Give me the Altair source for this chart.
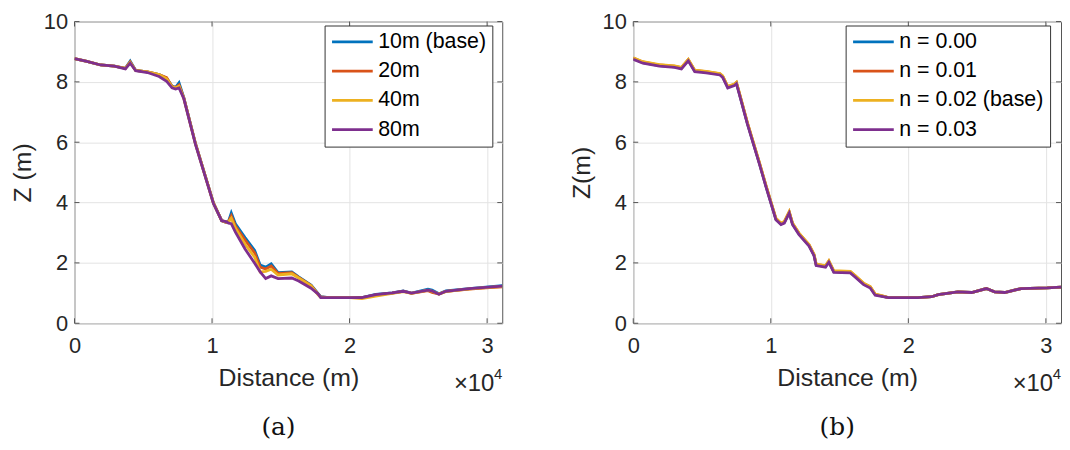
import altair as alt
import pandas as pd

# ---------------- data ----------------
dist_a = [0, 900, 1900, 2900, 3700, 4050, 4450, 5300, 6150, 6700,
          7090, 7350, 7600, 7950, 8800, 10100, 10700, 11000, 11200, 11400,
          11700, 12400, 13100, 13500, 13900, 14300, 14800, 15800, 16300, 17200,
          17700, 17900, 18500, 20000, 20900, 21900, 23100, 23900, 24500, 25700,
          26000, 26500, 27000, 28700, 29900, 31100]
z_10m = [8.77, 8.68, 8.56, 8.52, 8.45, 8.69, 8.38, 8.33, 8.24, 8.12,
         7.86, 7.82, 7.97, 7.48, 5.95, 3.99, 3.40, 3.35, 3.38, 3.66,
         3.30, 2.84, 2.41, 1.93, 1.86, 1.97, 1.68, 1.70, 1.54, 1.27,
         0.99, 0.88, 0.85, 0.85, 0.85, 0.96, 1.01, 1.07, 1.00, 1.13,
         1.10, 0.98, 1.07, 1.15, 1.20, 1.25]
z_20m = [8.77, 8.68, 8.56, 8.52, 8.45, 8.66, 8.38, 8.33, 8.24, 8.14,
         7.85, 7.81, 7.90, 7.47, 5.95, 3.99, 3.40, 3.35, 3.37, 3.56,
         3.22, 2.76, 2.33, 1.86, 1.80, 1.90, 1.65, 1.68, 1.52, 1.25,
         0.97, 0.87, 0.85, 0.85, 0.85, 0.94, 1.00, 1.06, 0.99, 1.08,
         1.02, 0.97, 1.06, 1.13, 1.17, 1.21]
z_40m = [8.77, 8.68, 8.56, 8.52, 8.45, 8.64, 8.38, 8.33, 8.24, 8.10,
         7.84, 7.80, 7.86, 7.45, 5.94, 3.98, 3.40, 3.35, 3.36, 3.48,
         3.15, 2.62, 2.19, 1.70, 1.72, 1.79, 1.60, 1.64, 1.50, 1.24,
         0.95, 0.86, 0.85, 0.85, 0.82, 0.90, 0.99, 1.05, 0.99, 1.10,
         1.06, 0.97, 1.05, 1.14, 1.18, 1.22]
z_80m = [8.77, 8.68, 8.56, 8.52, 8.43, 8.62, 8.37, 8.31, 8.18, 8.02,
         7.80, 7.76, 7.80, 7.44, 5.92, 3.97, 3.40, 3.37, 3.32, 3.30,
         3.02, 2.46, 1.99, 1.70, 1.48, 1.57, 1.48, 1.50, 1.40, 1.16,
         0.97, 0.85, 0.85, 0.85, 0.85, 0.95, 1.01, 1.06, 1.00, 1.10,
         1.07, 0.96, 1.06, 1.15, 1.19, 1.23]
labels_a = ["10m (base)", "20m", "40m", "80m"]

dist_b = [0, 700, 1900, 3000, 3500, 4000, 4470, 5300, 6300, 6500,
          6870, 7350, 7500, 7700, 8300, 9170, 9650, 10370, 10740, 10980,
          11340, 11580, 12050, 12780, 13140, 13300, 13980, 14220, 14580, 15780,
          16140, 16750, 17230, 17590, 18070, 18550, 20700, 21700, 22170, 23600,
          24600, 25670, 26270, 27000, 28200, 30100, 31100]
z_n000 = [8.77, 8.64, 8.54, 8.50, 8.45, 8.72, 8.36, 8.32, 8.25, 8.17,
          7.82, 7.90, 7.96, 7.63, 6.62, 5.30, 4.54, 3.45, 3.29, 3.34,
          3.67, 3.29, 2.96, 2.58, 2.26, 1.93, 1.88, 2.04, 1.71, 1.69,
          1.55, 1.30, 1.19, 0.95, 0.90, 0.85, 0.85, 0.88, 0.95, 1.04,
          1.02, 1.15, 1.04, 1.02, 1.15, 1.17, 1.20]
z_n001 = [8.79, 8.66, 8.56, 8.52, 8.47, 8.74, 8.38, 8.34, 8.27, 8.19,
          7.84, 7.92, 7.98, 7.65, 6.64, 5.32, 4.56, 3.47, 3.31, 3.36,
          3.69, 3.31, 2.98, 2.60, 2.28, 1.95, 1.90, 2.06, 1.73, 1.71,
          1.57, 1.32, 1.21, 0.96, 0.91, 0.85, 0.85, 0.88, 0.95, 1.04,
          1.02, 1.15, 1.04, 1.02, 1.15, 1.17, 1.20]
z_n002 = [8.80, 8.67, 8.57, 8.53, 8.48, 8.75, 8.39, 8.35, 8.28, 8.20,
          7.85, 7.93, 7.99, 7.66, 6.65, 5.33, 4.57, 3.48, 3.32, 3.37,
          3.70, 3.32, 2.99, 2.61, 2.29, 1.96, 1.91, 2.07, 1.74, 1.72,
          1.58, 1.33, 1.22, 0.97, 0.92, 0.85, 0.85, 0.88, 0.95, 1.04,
          1.02, 1.15, 1.04, 1.02, 1.15, 1.17, 1.20]
z_n003 = [8.75, 8.62, 8.52, 8.48, 8.43, 8.70, 8.34, 8.30, 8.23, 8.15,
          7.80, 7.88, 7.94, 7.61, 6.60, 5.28, 4.52, 3.43, 3.27, 3.32,
          3.65, 3.27, 2.94, 2.56, 2.24, 1.91, 1.86, 2.02, 1.69, 1.67,
          1.53, 1.28, 1.17, 0.93, 0.89, 0.85, 0.85, 0.88, 0.95, 1.04,
          1.02, 1.15, 1.04, 1.02, 1.15, 1.17, 1.20]
labels_b = ["n = 0.00", "n = 0.01", "n = 0.02 (base)", "n = 0.03"]

colors = ["#0072BD", "#D95319", "#EDB120", "#7E2F8E"]
x_ticks = [0, 10000, 20000, 30000]
y_ticks = [0, 2, 4, 6, 8, 10]
x_max = 31100

FONT = "Liberation Sans"
SERIF = "DejaVu Serif"
W, H = 431, 304
TXT = "#262626"


def tidy(dist, series, labels):
    rows = []
    for lab, vals in zip(labels, series):
        for d, z in zip(dist, vals):
            rows.append({"Distance": d, "Z": z, "series": lab})
    return pd.DataFrame(rows)


def panel(df, labels, ytitle, caption, lx, ly):
    X = alt.X("Distance:Q",
              scale=alt.Scale(domain=[0, x_max], nice=False, zero=False),
              axis=alt.Axis(values=x_ticks, labelExpr="datum.value / 10000",
                            title="Distance (m)", grid=True, gridColor="#e3e3e3",
                            ticks=False, domain=False, labelFontSize=22,
                            titleFontSize=25, labelFont=FONT, titleFont=FONT,
                            labelColor=TXT, titleColor=TXT, titleFontWeight="normal",
                            labelPadding=12, titlePadding=10, labelFlush=False))
    Y = alt.Y("Z:Q",
              scale=alt.Scale(domain=[0, 10], nice=False),
              axis=alt.Axis(values=y_ticks, title=ytitle, grid=True, gridColor="#e3e3e3",
                            ticks=False, domain=False, labelFontSize=22,
                            titleFontSize=25, labelFont=FONT, titleFont=FONT,
                            labelColor=TXT, titleColor=TXT, titleFontWeight="normal",
                            labelPadding=7, titlePadding=8, labelFlush=False))
    lines = alt.Chart(df).mark_line(strokeWidth=2.8, clip=True).encode(
        x=X, y=Y,
        color=alt.Color("series:N", sort=labels,
                        scale=alt.Scale(domain=labels, range=colors),
                        legend=alt.Legend(title=None, orient="none", legendX=lx, legendY=ly,
                                          symbolType="stroke", symbolSize=1681,
                                          symbolStrokeWidth=2.8, labelFontSize=21.5,
                                          labelFont=FONT, labelColor="#000",
                                          strokeColor="#333", fillColor="white",
                                          padding=6, clipHeight=21, rowPadding=7.5,
                                          labelOffset=4, labelLimit=400, cornerRadius=0)),
        order=alt.Order("Distance:Q"),
    )
    xt = pd.DataFrame({"Distance": x_ticks})
    yt = pd.DataFrame({"Z": y_ticks})
    tick_col = "#555555"
    xb = alt.Chart(xt).mark_rule(color=tick_col).encode(x=X, y=alt.value(H), y2=alt.value(H - 5))
    xtp = alt.Chart(xt).mark_rule(color=tick_col).encode(x=X, y=alt.value(0), y2=alt.value(5))
    yl = alt.Chart(yt).mark_rule(color=tick_col).encode(y=Y, x=alt.value(0), x2=alt.value(5))
    yr = alt.Chart(yt).mark_rule(color=tick_col).encode(y=Y, x=alt.value(W), x2=alt.value(W - 5))
    exp_base = alt.Chart(pd.DataFrame({"t": ["×10"]})).mark_text(
        align="right", baseline="alphabetic", fontSize=24, font=FONT, color=TXT
    ).encode(text="t:N", x=alt.value(W - 8), y=alt.value(H + 68))
    exp_pow = alt.Chart(pd.DataFrame({"t": ["4"]})).mark_text(
        align="right", baseline="alphabetic", fontSize=15, font=FONT, color=TXT
    ).encode(text="t:N", x=alt.value(W), y=alt.value(H + 56))
    return alt.layer(lines, xb, xtp, yl, yr, exp_base, exp_pow).properties(
        width=W, height=H,
        title=alt.TitleParams(caption, orient="bottom", font=SERIF, fontSize=25,
                              fontWeight="normal", color="#111", anchor="middle",
                              offset=20, dx=-10))


df_a = tidy(dist_a, [z_10m, z_20m, z_40m, z_80m], labels_a)
df_b = tidy(dist_b, [z_n000, z_n001, z_n002, z_n003], labels_b)

pa = panel(df_a, labels_a, "Z (m)", "(a)", 252, 4)
pb = panel(df_b, labels_b, "Z(m)", "(b)", 214, 4)

chart = alt.hconcat(pa, pb, spacing=66).resolve_scale(color="independent").properties(
    padding={"left": 2, "top": 0, "right": 0, "bottom": 0}
).configure_view(stroke="#555555", strokeWidth=1)

chart.save("out.html", embed_options={"renderer": "svg", "actions": False})
